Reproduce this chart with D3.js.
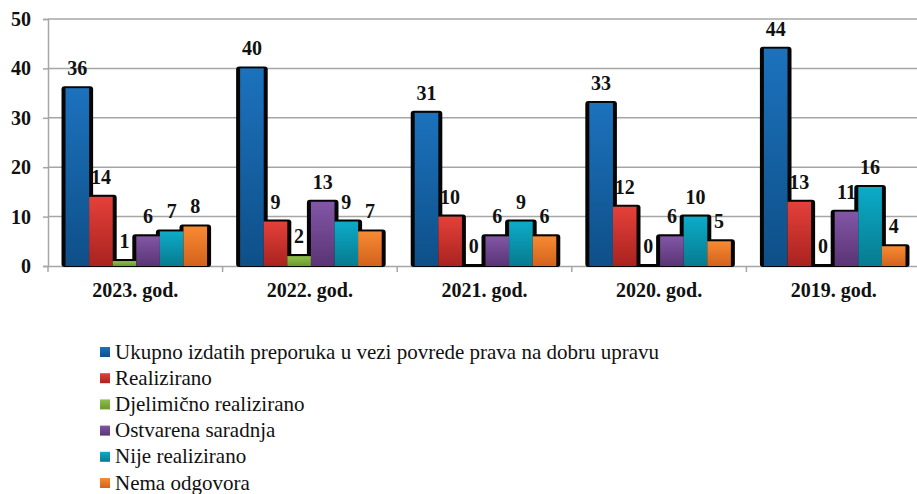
<!DOCTYPE html>
<html>
<head>
<meta charset="utf-8">
<script src="https://cdn.jsdelivr.net/npm/d3@7"></script>
<style>
  body { margin: 0; background: #fff; }
  svg { display: block; }
  svg text { font-family: 'Liberation Serif', 'Times New Roman', Times, 'DejaVu Serif', serif !important; }
</style>
</head>
<body>
<svg id="chart" width="917" height="494"></svg>
<script>
const years = ['2023. god.', '2022. god.', '2021. god.', '2020. god.', '2019. god.'];
const seriesNames = [
    'Ukupno izdatih preporuka u vezi povrede prava na dobru upravu',
    'Realizirano',
    'Djelimično realizirano',
    'Ostvarena saradnja',
    'Nije realizirano',
    'Nema odgovora'
];
const ukupno = [36, 40, 31, 33, 44];
const realizirano = [14, 9, 10, 12, 13];
const djelimicno = [1, 2, 0, 0, 0];
const saradnja = [6, 13, 6, 6, 11];
const nijeRealizirano = [7, 9, 9, 10, 16];
const nemaOdgovora = [8, 7, 6, 5, 4];
const yTicks = [0, 10, 20, 30, 40, 50];

const seriesValues = [ukupno, realizirano, djelimicno, saradnja, nijeRealizirano, nemaOdgovora];
const colors = [
    ['#1c72bd', '#0e4f88'],
    ['#e5403a', '#a9231f'],
    ['#8fbf4a', '#6a9a2e'],
    ['#8256a6', '#5a3475'],
    ['#0cabc8', '#077b8f'],
    ['#f78a33', '#d3621c']
];

const svg = d3.select('#chart');

const y = d3.scaleLinear().domain([0, 50]).range([266, 19]);
const x0 = d3.scaleBand().domain(years).range([48, 921]);
const x1 = d3.scaleBand().domain(d3.range(seriesNames.length))
    .range([0, x0.bandwidth()]).paddingOuter(0.7);

// gradients
const defs = svg.append('defs');
colors.forEach((c, i) => {
    const g = defs.append('linearGradient').attr('id', 'g' + i)
        .attr('x1', 0).attr('y1', 0).attr('x2', 0).attr('y2', 1);
    g.append('stop').attr('offset', '0%').attr('stop-color', c[0]);
    g.append('stop').attr('offset', '100%').attr('stop-color', c[1]);
});

// gridlines
svg.append('g').selectAll('line').data(yTicks.filter(d => d > 0)).enter()
    .append('line')
    .attr('x1', 48).attr('x2', 917)
    .attr('y1', d => y(d)).attr('y2', d => y(d))
    .attr('stroke', '#a6a6a6').attr('stroke-width', 1.5);

// y axis
const yAxis = svg.append('g').attr('transform', 'translate(48,0)')
    .call(d3.axisLeft(y).tickValues(yTicks).tickSize(5).tickPadding(12));
yAxis.attr('font-family', null);
yAxis.select('.domain').attr('stroke', '#a6a6a6').attr('stroke-width', 1.5);
yAxis.selectAll('.tick line').attr('stroke', '#a6a6a6').attr('stroke-width', 1.5);
yAxis.selectAll('text').attr('font-weight', 'bold')
    .attr('font-size', 20).attr('fill', '#111');

// x axis
const xAxis = svg.append('g').attr('transform', 'translate(0,266)')
    .call(d3.axisBottom(x0).tickSize(0).tickPadding(17));
xAxis.attr('font-family', null);
xAxis.select('.domain').attr('stroke', '#a6a6a6').attr('stroke-width', 1.5);
xAxis.selectAll('text').attr('font-weight', 'bold')
    .attr('font-size', 20).attr('fill', '#111');
svg.append('g').selectAll('line').data(years).enter()
    .append('line')
    .attr('x1', d => x0(d)).attr('x2', d => x0(d))
    .attr('y1', 266).attr('y2', 272)
    .attr('stroke', '#a6a6a6').attr('stroke-width', 1.5);

// bars
const groups = svg.append('g').selectAll('g').data(years).enter()
    .append('g')
    .attr('transform', d => `translate(${x0(d) + 1},0)`);

const bw = x1.bandwidth();
const cells = (d, yi) => seriesValues.map((vals, si) => ({ s: si, v: vals[yi] }));

groups.each(function (d, yi) {
    const g = d3.select(this);
    const data = cells(d, yi);
    // dark 3D sides behind
    g.selectAll('rect.side').data(data).enter()
        .append('rect').attr('class', 'side')
        .attr('x', c => x1(c.s) - 4)
        .attr('y', c => y(c.v) - 2)
        .attr('width', bw + 8)
        .attr('height', c => y(0) - y(c.v) + 3)
        .attr('rx', 3)
        .attr('fill', '#050505');
    // faces
    g.selectAll('rect.face').data(data).enter()
        .append('rect').attr('class', 'face')
        .attr('x', c => x1(c.s))
        .attr('y', c => y(c.v))
        .attr('width', bw)
        .attr('height', c => y(0) - y(c.v))
        .attr('fill', c => `url(#g${c.s})`);
    // labels
    g.selectAll('text.lbl').data(data).enter()
        .append('text').attr('class', 'lbl')
        .attr('x', c => x1(c.s) + bw / 2)
        .attr('y', c => y(c.v) - 13)
        .attr('text-anchor', 'middle')
        .attr('font-weight', 'bold')
        .attr('font-size', 20).attr('fill', '#111')
        .text(c => c.v);
});

// legend
const legend = svg.append('g').attr('transform', 'translate(100,347)');
const items = legend.selectAll('g').data(seriesNames).enter()
    .append('g')
    .attr('transform', (d, i) => `translate(0,${i * 26.2})`);
items.append('rect')
    .attr('width', 10).attr('height', 10)
    .attr('fill', (d, i) => `url(#g${i})`);
items.append('text')
    .attr('x', 15).attr('y', 11.5)
    .attr('font-size', 21).attr('fill', '#111')
    .text(d => d);
</script>
</body>
</html>
